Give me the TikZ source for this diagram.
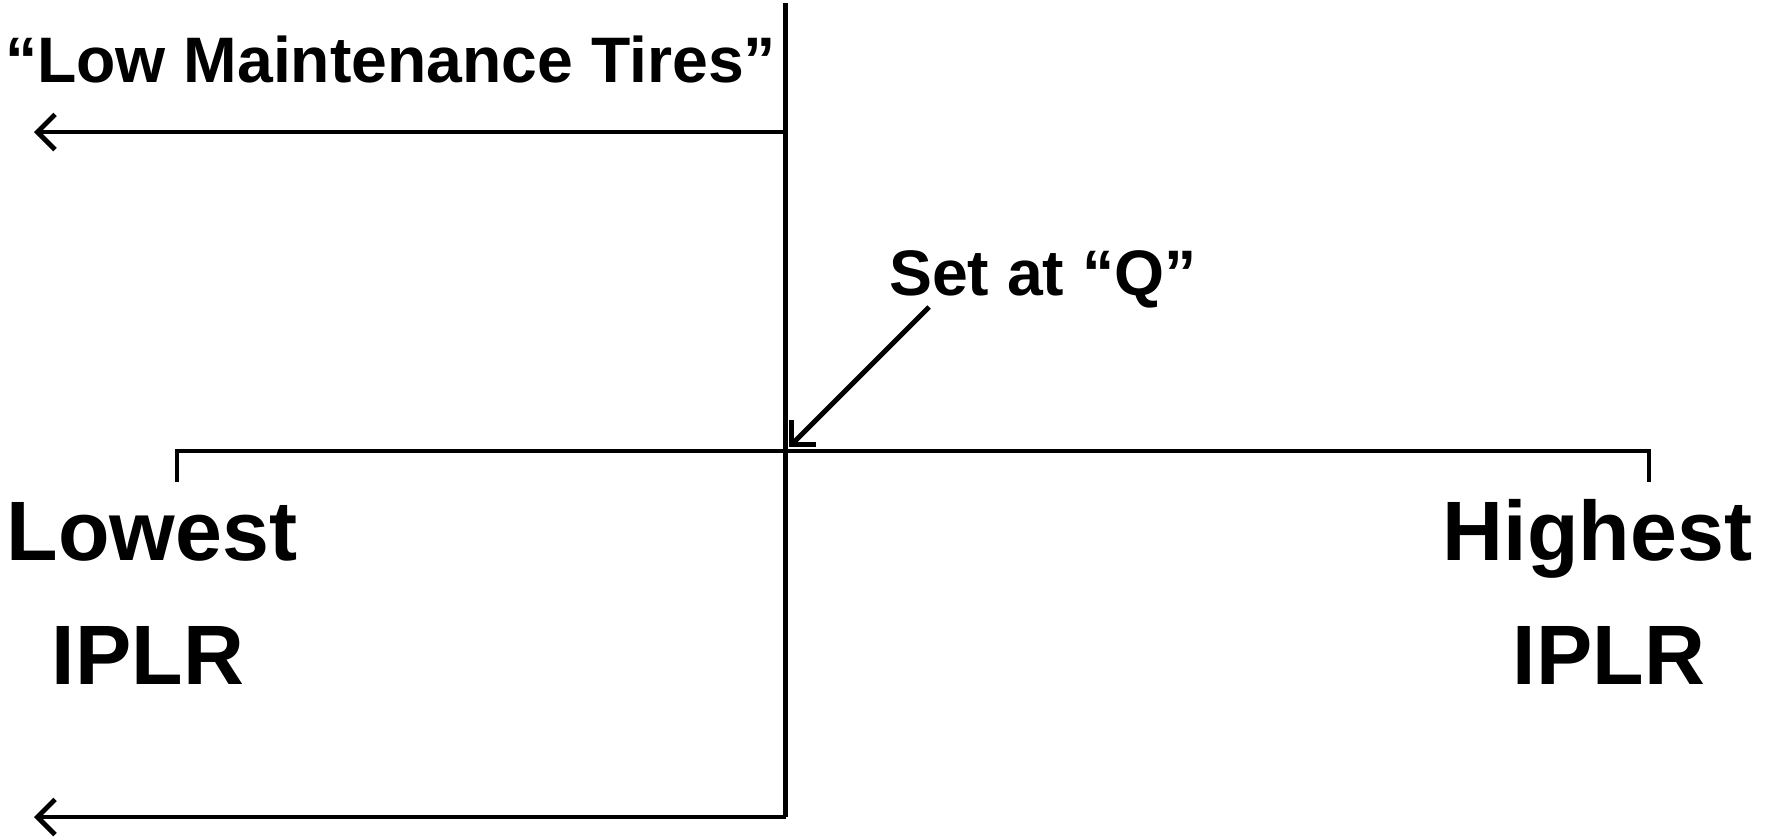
\documentclass[tikz,border=0pt]{standalone}
\usepackage{fontspec}
\setmainfont{Liberation Sans}
\usepackage{tikz}
\usetikzlibrary{arrows.meta}

\begin{document}
\begin{tikzpicture}[scale=1.0, line width=1.4pt,
    barb/.style={-{Straight Barb[length=5pt, width=10pt]}},
    biglab/.style={anchor=base, inner sep=0pt, font=\fontsize{24}{28}\selectfont\bfseries},
    smalllab/.style={anchor=base, inner sep=0pt, font=\fontsize{18.3}{22}\selectfont\bfseries}]
    \useasboundingbox (0,0) rectangle (17.67,8.36);

    % 定义坐标
    \coordinate (T) at (7.855,8.33);
    \coordinate (Q) at (7.855,3.85);
    \coordinate (B) at (7.855,0.19);
    \coordinate (TA) at (7.855,7.04);
    \coordinate (TE) at (0.34,7.04);
    \coordinate (BE) at (0.34,0.19);
    \coordinate (L) at (1.77,3.85);
    \coordinate (H) at (16.49,3.85);
    \coordinate (Lt) at (1.77,3.54);
    \coordinate (Ht) at (16.49,3.54);
    \coordinate (Qtip) at (7.89,3.89);

    % 竖线与横线
    \draw (T) -- (B);
    \draw (Lt) -- (L) -- (H) -- (Ht);

    % 左向箭头
    \draw[barb] (TA) -- (TE);
    \draw[barb] (B) -- (BE);

    % 文字标注
    \node[smalllab] (tires) at (3.905,7.54) {“Low Maintenance Tires”};
    \node[smalllab] (setq) at (10.43,5.41) {Set at “Q”};
    \node[biglab] (lowest) at (1.52,2.76) {Lowest};
    \node[biglab] (lowiplr) at (1.48,1.52) {IPLR};
    \node[biglab] (highest) at (15.975,2.76) {Highest};
    \node[biglab] (highiplr) at (16.09,1.52) {IPLR};

    % 指向 Q 的箭头
    \coordinate (Qstart) at (9.29,5.29);
    \draw[barb] (Qstart) -- (Qtip);
\end{tikzpicture}
\end{document}
